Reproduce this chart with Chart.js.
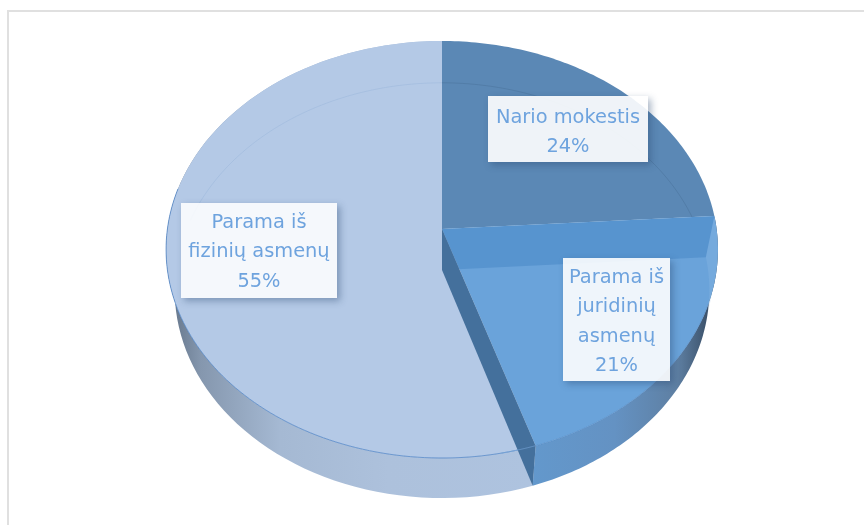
<!DOCTYPE html>
<html>
<head>
<meta charset="utf-8">
<title>Pajamos</title>
<script src="https://cdn.jsdelivr.net/npm/chart.js@4"></script>
<style>
  html, body { margin: 0; background: #fff; overflow: hidden; }
  #frame { position: absolute; left: 7px; top: 10px; right: 0; bottom: 0; border-left: 2px solid #e0e0e0; border-top: 2px solid #e0e0e0; }
  canvas { position: absolute; left: 0; top: 0; filter: blur(0.45px); }
</style>
</head>
<body>
<div id="frame"></div>
<canvas id="canvas" width="864" height="525"></canvas>
<script>
const categories = ['Nario mokestis', 'Parama iš juridinių asmenų', 'Parama iš fizinių asmenų']
const values = [24, 21, 55]
const sliceColors = ['#5b88b5', '#6aa3da', '#b4c9e6']

// wrapped label text, same order as categories
const labelLines = [
  ['Nario mokestis'],
  ['Parama iš', 'juridinių', 'asmenų'],
  ['Parama iš', 'fizinių asmenų']
]
// label boxes: left, top, right, bottom, first line centre
const labelBoxes = [
  [488, 96, 648, 162, 118],
  [563, 258, 670, 381, 278],
  [181, 203, 337, 298, 223]
]
const labelFill = ['rgba(255,255,255,0.9)', 'rgba(255,255,255,0.89)', 'rgba(255,255,255,0.86)']

// the 3d look: a circle seen in perspective, top face and a lower copy of it
const topFace = { cx: 442, cy: 229, a: 206.5, b: 274.6, k: -0.0983 }
const lowFace = { cx: 442, cy: 270, a: 205.6, b: 266, k: -0.0983 }

function project(face, angle) {
  const x = Math.cos(angle), y = Math.sin(angle)
  const w = 1 + face.k * y
  return [face.cx + face.b * x / w, face.cy + face.a * y / w]
}

function trace(ctx, face, from, to, move) {
  const steps = 90
  for (let i = 0; i <= steps; i++) {
    const p = project(face, from + (to - from) * i / steps)
    if (i == 0 && move) ctx.moveTo(p[0], p[1])
    else ctx.lineTo(p[0], p[1])
  }
}

function drawFace(ctx, arc, color) {
  ctx.beginPath()
  ctx.moveTo(topFace.cx, topFace.cy)
  trace(ctx, topFace, arc.startAngle, arc.endAngle, false)
  ctx.closePath()
  ctx.fillStyle = color
  ctx.fill()
}

function strokeRim(ctx, face, from, to, color) {
  ctx.beginPath()
  trace(ctx, face, from, to, true)
  ctx.strokeStyle = color
  ctx.lineWidth = 1
  ctx.stroke()
}

function drawWall(ctx, from, to, fill) {
  ctx.beginPath()
  trace(ctx, topFace, from, to, true)
  trace(ctx, lowFace, to, from, false)
  ctx.closePath()
  ctx.fillStyle = fill
  ctx.fill()
}

// flat wall standing on a slice edge, from the centre out to the rim
function drawCut(ctx, angle, fill) {
  const a = project(topFace, angle), b = project(lowFace, angle)
  ctx.beginPath()
  ctx.moveTo(topFace.cx, topFace.cy)
  ctx.lineTo(a[0], a[1])
  ctx.lineTo(b[0], b[1])
  ctx.lineTo(lowFace.cx, lowFace.cy)
  ctx.closePath()
  ctx.fillStyle = fill
  ctx.fill()
}

function hGrad(ctx, x0, x1, stops) {
  const g = ctx.createLinearGradient(x0, 0, x1, 0)
  stops.forEach(s => g.addColorStop(s[0], s[1]))
  return g
}

const pie3d = {
  id: 'pie3d',
  beforeDatasetsDraw(chart) {
    const ctx = chart.ctx
    const arcs = chart.getDatasetMeta(0).data
    ctx.save()

    // outer walls
    drawWall(ctx, arcs[2].startAngle, arcs[2].endAngle, hGrad(ctx, 172, 533, [
      [0, '#66778c'], [0.08, '#8597ae'], [0.3, '#a5b9d3'], [0.6, '#adc1dc'], [1, '#aec3df']
    ]))
    drawWall(ctx, arcs[1].startAngle, arcs[1].endAngle, hGrad(ctx, 533, 714, [
      [0, '#6398cc'], [0.45, '#6492c3'], [0.8, '#5e7fa2'], [0.95, '#3f5670'], [1, '#33465c']
    ]))

    // faces, far slices first so the back rim line only shows on them
    drawFace(ctx, arcs[2], sliceColors[2])
    drawFace(ctx, arcs[0], sliceColors[0])

    strokeRim(ctx, lowFace, Math.PI + 0.25, arcs[2].endAngle, 'rgba(125,160,205,0.22)')
    strokeRim(ctx, lowFace, arcs[0].startAngle, arcs[0].endAngle, 'rgba(70,110,150,0.45)')

    drawFace(ctx, arcs[1], sliceColors[1])

    // front rim of the top face only
    strokeRim(ctx, topFace, arcs[2].startAngle, Math.PI + 0.2, 'rgba(70,125,195,0.7)')
    strokeRim(ctx, topFace, 0.35, arcs[1].endAngle, 'rgba(80,135,195,0.6)')

    // see-through parts of the juridiniu slice
    drawCut(ctx, arcs[1].startAngle, 'rgba(60,125,190,0.4)')
    drawWall(ctx, arcs[1].startAngle, arcs[1].startAngle + 0.35, 'rgba(150,190,230,0.25)')
    drawCut(ctx, arcs[1].endAngle, '#44709c')
    strokeRim(ctx, topFace, arcs[1].endAngle, arcs[1].endAngle + 0.12, 'rgba(120,165,215,0.7)')

    ctx.restore()
    return false
  },
  afterDraw(chart) {
    const ctx = chart.ctx
    ctx.save()
    ctx.textAlign = 'center'
    ctx.textBaseline = 'middle'
    categories.forEach((name, i) => {
      const box = labelBoxes[i]
      const w = box[2] - box[0], h = box[3] - box[1]

      // shadow only outside the box, the fill is see-through
      ctx.save()
      ctx.beginPath()
      ctx.rect(0, 0, chart.width, chart.height)
      ctx.rect(box[0], box[1], w, h)
      ctx.clip('evenodd')
      ctx.shadowColor = 'rgba(40,70,110,0.4)'
      ctx.shadowBlur = 7
      ctx.shadowOffsetX = 3
      ctx.shadowOffsetY = 3
      ctx.fillStyle = '#fff'
      ctx.fillRect(box[0], box[1], w, h)
      ctx.restore()

      ctx.fillStyle = labelFill[i]
      ctx.fillRect(box[0], box[1], w, h)

      ctx.font = '19.4px "DejaVu Sans"'
      ctx.fillStyle = '#6ea3de'
      const lines = labelLines[i].concat(values[i] + '%')
      lines.forEach((line, n) => {
        ctx.fillText(line, (box[0] + box[2]) / 2, box[4] + n * 29.3)
      })
    })
    ctx.restore()
  }
}

new Chart(document.getElementById('canvas').getContext('2d'), {
  type: 'pie',
  data: {
    labels: categories,
    datasets: [{ data: values, backgroundColor: sliceColors, borderWidth: 0 }]
  },
  options: {
    responsive: false,
    animation: false,
    plugins: { legend: { display: false }, tooltip: { enabled: false } }
  },
  plugins: [pie3d]
})
</script>
</body>
</html>
